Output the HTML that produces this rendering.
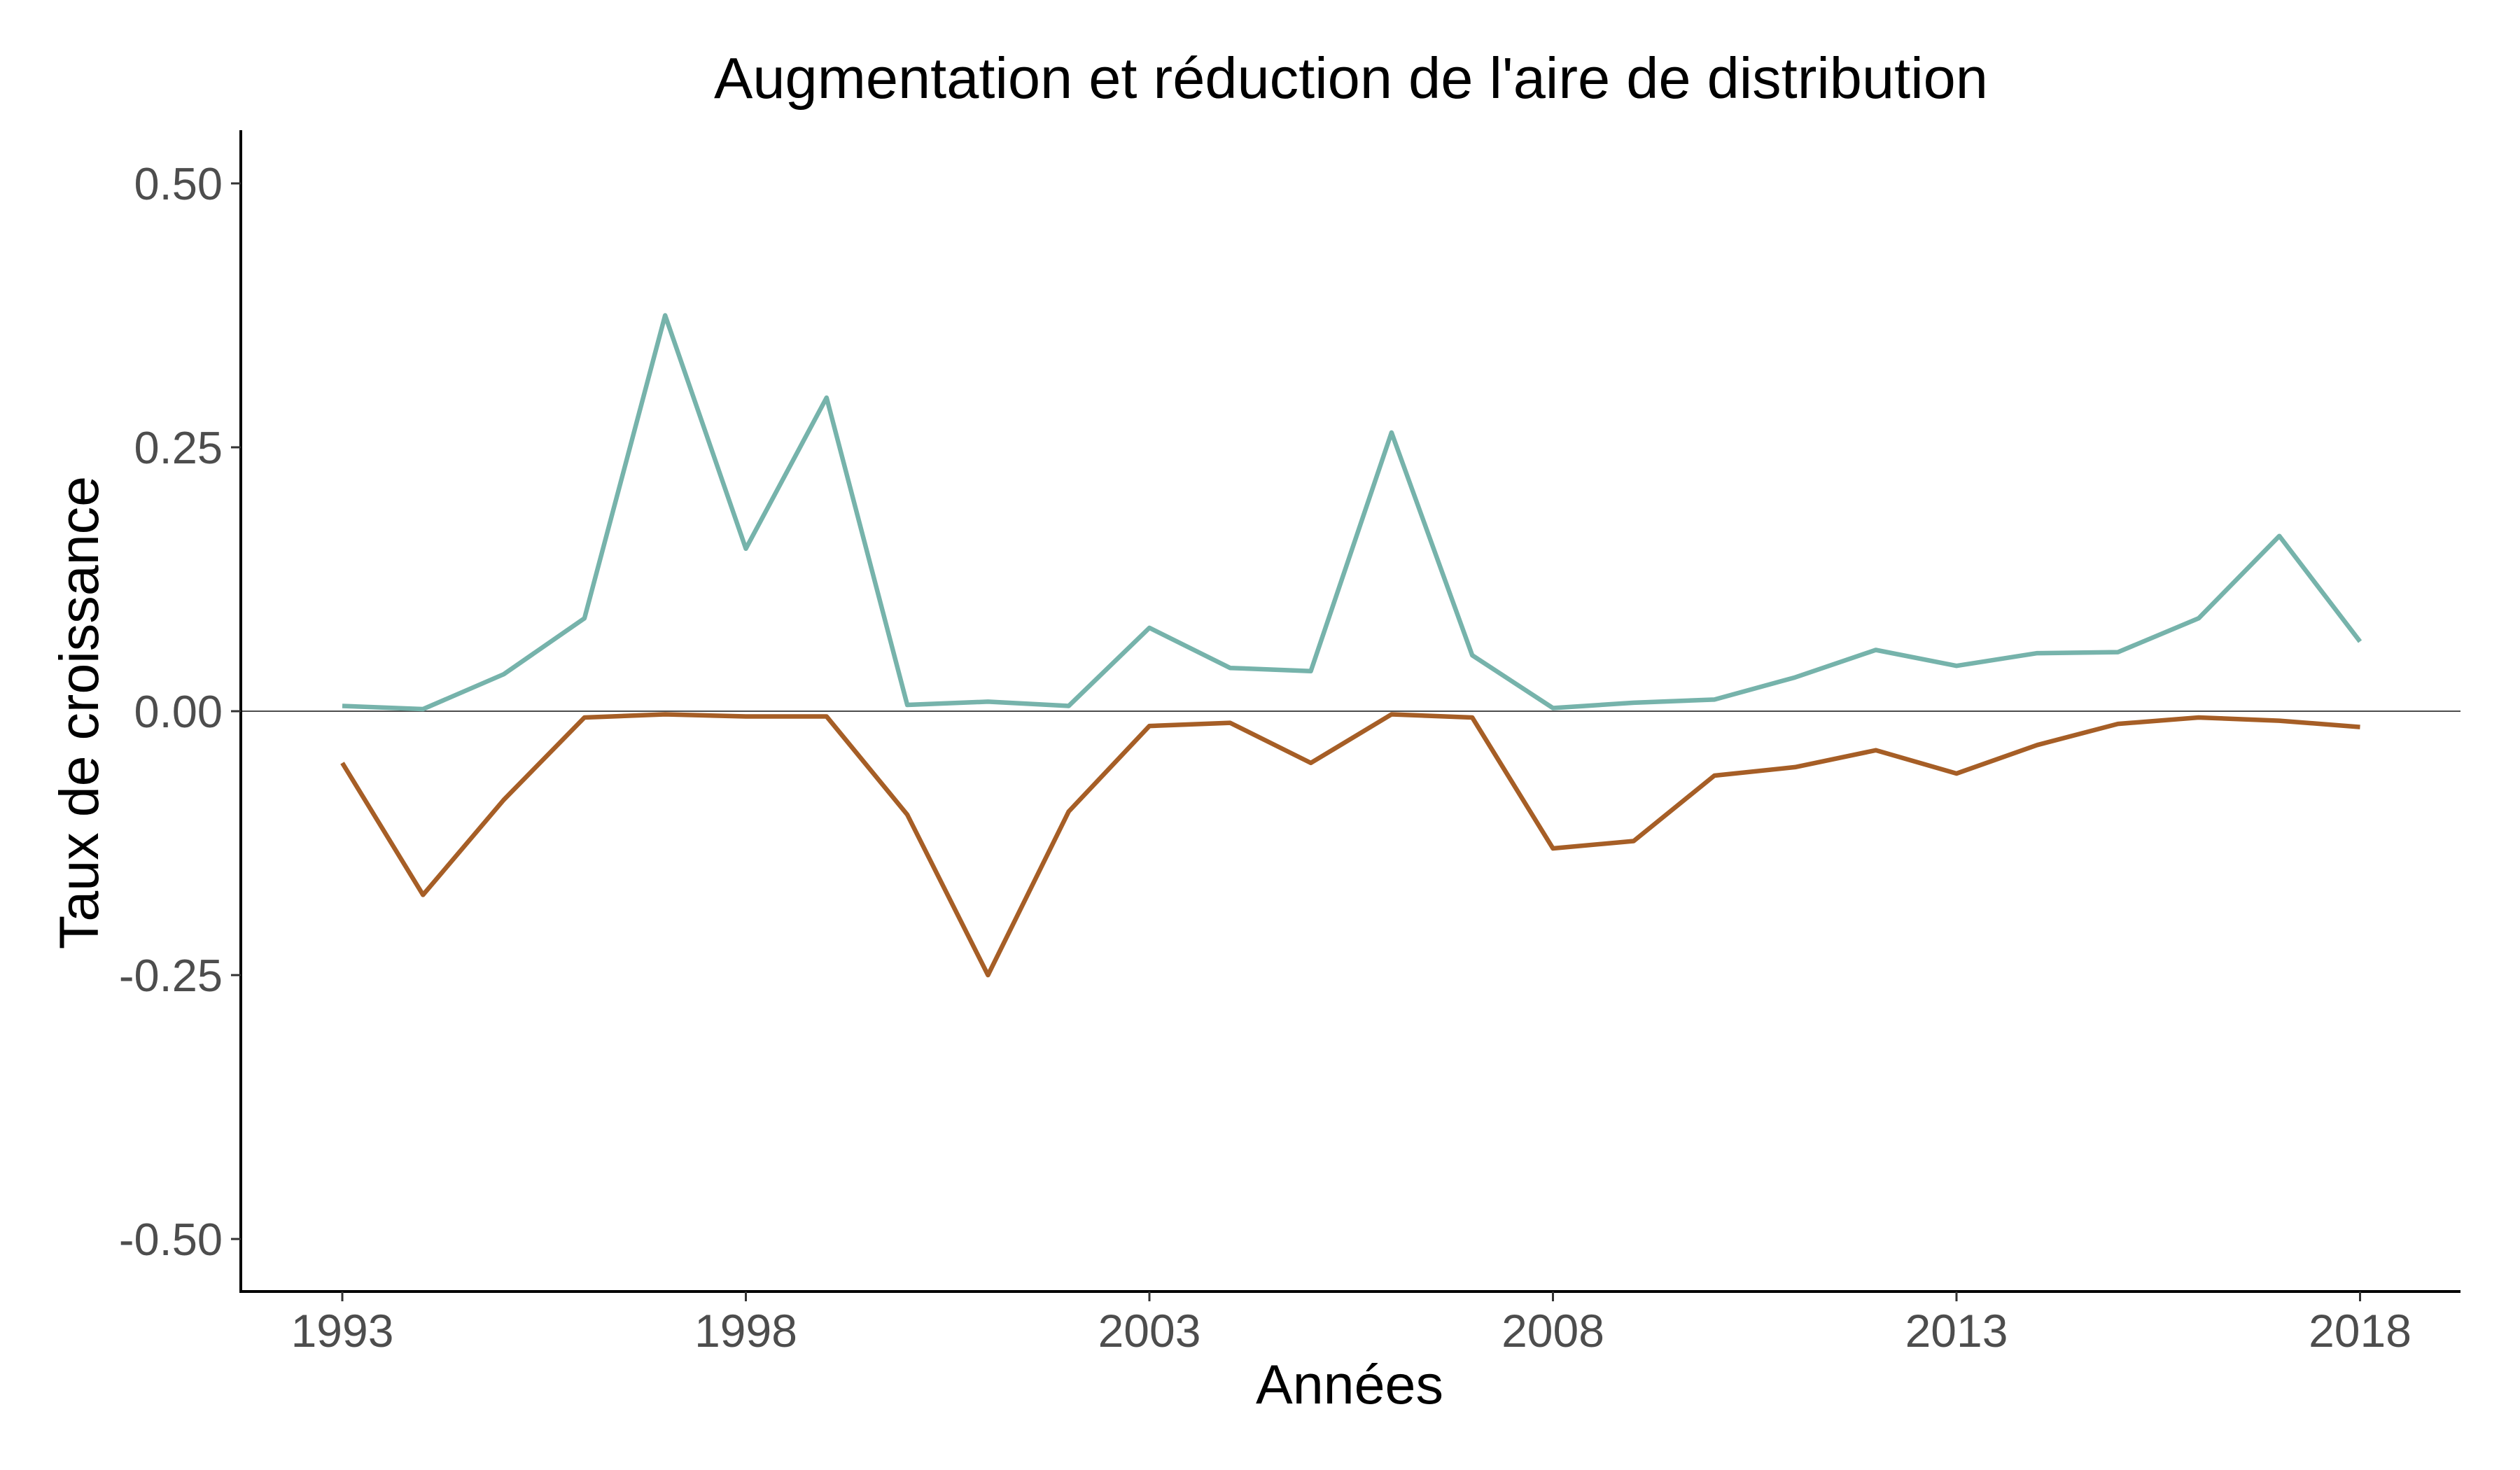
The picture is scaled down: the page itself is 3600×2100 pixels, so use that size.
<!DOCTYPE html>
<html><head><meta charset="utf-8"><style>
html,body{margin:0;padding:0;background:#fff}
svg{display:block}
text{font-family:"Liberation Sans",sans-serif}
</style></head><body>
<svg id="chart" width="3600" height="2100" viewBox="0 0 3600 2100" xmlns="http://www.w3.org/2000/svg">
<rect width="3600" height="2100" fill="#fff"/>
<text x="1930" y="140" font-size="83" text-anchor="middle" fill="#000">Augmentation et réduction de l'aire de distribution</text>
<g id="axes"></g>
<g id="series"></g>
<text x="1928" y="2005" font-size="79" text-anchor="middle" fill="#000">Années</text>
<text x="0" y="0" font-size="79" text-anchor="middle" fill="#000" transform="translate(140,1018) rotate(-90)">Taux de croissance</text>
</svg>
<script>
const years = [1993,1994,1995,1996,1997,1998,1999,2000,2001,2002,2003,2004,2005,2006,2007,2008,2009,2010,2011,2012,2013,2014,2015,2016,2017,2018];
const augmentation = [0.005,0.002,0.035,0.088,0.375,0.154,0.297,0.006,0.009,0.005,0.079,0.041,0.038,0.264,0.053,0.003,0.008,0.011,0.032,0.058,0.043,0.055,0.056,0.088,0.166,0.066];
const reduction = [-0.049,-0.174,-0.084,-0.006,-0.003,-0.005,-0.005,-0.098,-0.250,-0.095,-0.014,-0.011,-0.049,-0.003,-0.006,-0.130,-0.123,-0.061,-0.053,-0.037,-0.059,-0.032,-0.012,-0.006,-0.009,-0.015];
const xTicks = [1993,1998,2003,2008,2013,2018];
const yTicks = [0.5,0.25,0,-0.25,-0.5];
const yTickLabels = ["0.50","0.25","0.00","-0.25","-0.50"];

const NS = "http://www.w3.org/2000/svg";
function xs(v){ return 489 + (v-1993)*115.3; }
function ys(v){ return 1016 - v*1508; }
function mk(tag, attrs, parent){
  const e = document.createElementNS(NS, tag);
  for (const k in attrs) e.setAttribute(k, attrs[k]);
  parent.appendChild(e); return e;
}
const axes = document.getElementById('axes');
const series = document.getElementById('series');

const zl = mk('line',{x1:343,x2:3515,y1:ys(0),y2:ys(0),stroke:'#4d4d4d','stroke-width':2},axes);


const yax = mk('line',{x1:344,x2:344,y1:186,y2:1846,stroke:'#000','stroke-width':4},axes);


const xax = mk('line',{x1:342,x2:3515,y1:1845,y2:1845,stroke:'#000','stroke-width':4},axes);



yTicks.forEach((v,i)=>{
  const t = mk('line',{x1:330,x2:344,y1:ys(v),y2:ys(v),stroke:'#333','stroke-width':3},axes);
  
  
  const l = mk('text',{x:318,y:ys(v)+23,'font-size':65,'text-anchor':'end',fill:'#4d4d4d'},axes);
  l.textContent = yTickLabels[i];
  
  
});
xTicks.forEach(v=>{
  const t = mk('line',{x1:xs(v),x2:xs(v),y1:1845,y2:1859,stroke:'#333','stroke-width':3},axes);
  
  
  const l = mk('text',{x:xs(v),y:1924,'font-size':66,'text-anchor':'middle',fill:'#4d4d4d'},axes);
  l.textContent = String(v);
  
  
});

function line(vals, color, name){
  const d = vals.map((v,i)=>(i?'L':'M')+xs(years[i]).toFixed(1)+','+ys(v).toFixed(1)).join(' ');
  const p = mk('path',{d:d,fill:'none',stroke:color,'stroke-width':6.5,'stroke-linejoin':'round'},series);
  
  
}
line(augmentation,'#76b3ab','augmentation-line');
line(reduction,'#a65e26','reduction-line');
</script>
</body></html>
